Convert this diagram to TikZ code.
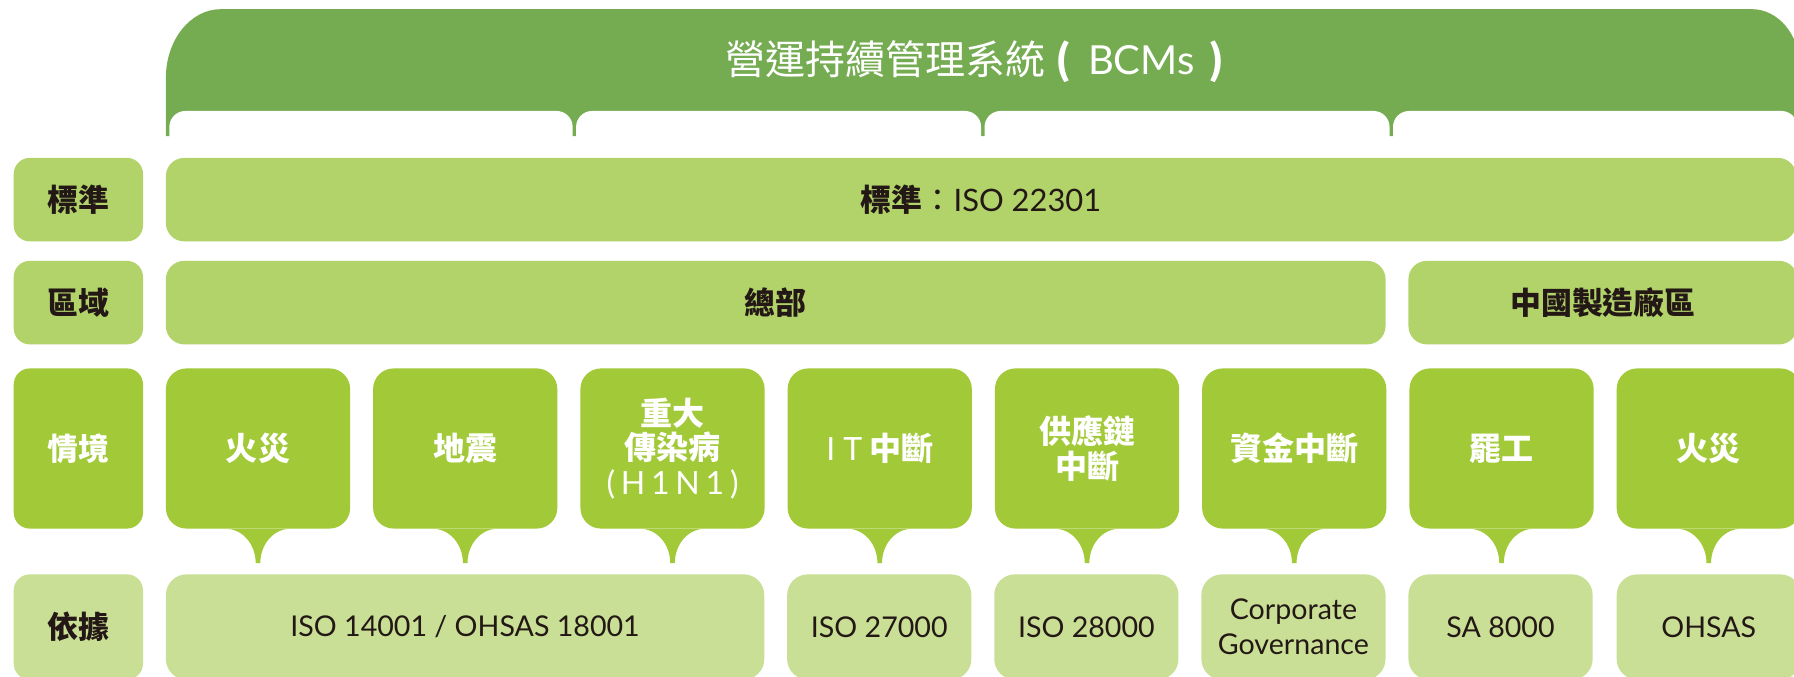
\documentclass[tikz,border=0pt]{standalone}
\usepackage{fontspec}
\setmainfont{Lato}
\newfontfamily\cjk{Noto Sans CJK TC}
\definecolor{bannergreen}{HTML}{75AC52}
\definecolor{bargreen}{HTML}{B2D36A}
\definecolor{scengreen}{HTML}{A1C938}
\definecolor{basisgreen}{HTML}{C9DF95}
\definecolor{ink}{HTML}{231815}

\begin{document}
\begin{tikzpicture}[x=1pt,y=1pt,
  sidebox/.style={fill=#1,rounded corners=14,inner sep=0,minimum width=113,text=ink,
    font=\cjk\bfseries\fontsize{27}{30}\selectfont},
  barbox/.style={fill=bargreen,rounded corners=16,inner sep=0,minimum height=73,text=ink,
    font=\cjk\bfseries\fontsize{27}{30}\selectfont},
  scenbox/.style={fill=scengreen,rounded corners=18,inner sep=0,minimum width=161,minimum height=140,
    text=white,align=center,font=\cjk\bfseries\fontsize{28}{30}\selectfont},
  basisbox/.style={fill=basisgreen,rounded corners=18,inner sep=0,minimum height=92,
    text=ink,align=center,font=\fontsize{25}{31}\selectfont}]
\useasboundingbox (0,0) rectangle (1568,-591);

% banner with the four tabs
\fill[bannergreen] (145,-119) -- (145,-68) arc[start angle=180,end angle=90,x radius=48,y radius=60]
  -- (1531,-8) arc[start angle=90,end angle=0,x radius=42,y radius=50] -- (1573,-119) -- cycle;
\fill[white,rounded corners=14] (148,-97) rectangle (500.5,-150);
\fill[white,rounded corners=14] (503.5,-97) rectangle (857.5,-150);
\fill[white,rounded corners=14] (860.5,-97) rectangle (1214.5,-150);
\fill[white,rounded corners=14] (1217.5,-97) rectangle (1571,-150);
\node[text=white,inner sep=0] (title) at (852,-54)
  {\fontsize{35}{40}\selectfont{\cjk 營運持續管理系統}\hspace{9pt}{\cjk\bfseries(}\hspace{14pt}BCMs\hspace{12pt}{\cjk\bfseries)}};

% left column
\node[sidebox=bargreen,minimum height=73] (std) at (68.5,-174.5) {標準};
\node[sidebox=bargreen,minimum height=73] (area) at (68.5,-264.5) {區域};
\node[sidebox=scengreen,minimum height=140,text=white] (scen) at (68.5,-392) {情境};
\node[sidebox=basisgreen,minimum height=92] (basis) at (68.5,-548) {依據};

% standard and regions
\node[barbox,minimum width=1425] (iso) at (857.5,-174.5) {標準\mdseries：{\rmfamily ISO 22301}};
\node[barbox,minimum width=1066] (hq) at (678,-264.5) {總部};
\node[barbox,minimum width=340] (china) at (1401,-264.5) {中國製造廠區};

% scenarios
\node[scenbox] (s1) at (225.5,-392) {火災};
\node[scenbox] (s2) at (406.6,-392) {地震};
\node[scenbox] (s3) at (587.8,-392) {重大\\傳染病\\{\rmfamily\mdseries\addfontfeature{LetterSpace=18}(H1N1)}};
\node[scenbox] (s4) at (768.9,-392) {{\rmfamily\mdseries I\hspace{7pt}T}\hspace{6pt}中斷};
\node[scenbox] (s5) at (950.1,-392) {供應鏈\\中斷};
\node[scenbox] (s6) at (1131.2,-392) {資金中斷};
\node[scenbox] (s7) at (1312.4,-392) {罷工};
\node[scenbox] (s8) at (1493.5,-392) {火災};
\foreach \s in {s1,s2,s3,s4,s5,s6,s7,s8}
  \fill[scengreen] ([xshift=-28pt]\s.south) arc[start angle=90,end angle=0,x radius=26,y radius=30]
    -- ++(4,0) arc[start angle=180,end angle=90,x radius=26,y radius=30] -- cycle;

% basis
\node[basisbox,minimum width=523] (b1) at (406.5,-548) {ISO 14001 / OHSAS 18001};
\node[basisbox,minimum width=161] (b2) at (768.5,-548) {ISO 27000};
\node[basisbox,minimum width=161] (b3) at (949.5,-548) {ISO 28000};
\node[basisbox,minimum width=161] (b4) at (1130.5,-548) {Corporate\\Governance};
\node[basisbox,minimum width=161] (b5) at (1311.5,-548) {SA 8000};
\node[basisbox,minimum width=161] (b6) at (1493.5,-548) {OHSAS};
\end{tikzpicture}
\end{document}
